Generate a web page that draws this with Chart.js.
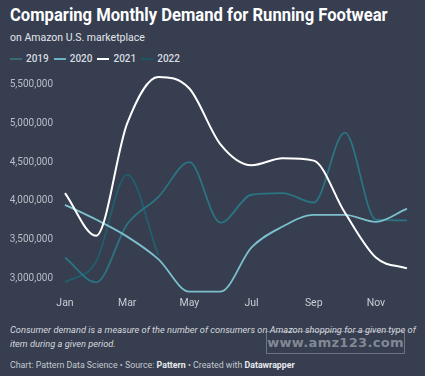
<!DOCTYPE html>
<html>
<head>
<meta charset="utf-8">
<script src="https://cdn.jsdelivr.net/npm/chart.js@4"></script>
<style>
  html, body { margin: 0; padding: 0; }
  body {
    width: 425px; height: 376px; overflow: hidden;
    background: #363e50; font-family: Roboto, "Noto Sans", sans-serif;
    position: relative; color: #fff;
  }
  #title { position: absolute; left: 10px; top: 4px; font-size: 18px; font-weight: 700; white-space: nowrap; transform-origin: 0 0; }
  #sub { position: absolute; left: 10px; top: 31px; font-size: 10.5px; color: #e4e6ea; white-space: nowrap; }
  #legend { position: absolute; left: 10px; top: 53px; font-size: 10px; font-weight: 500; color: #d8dbe0; display: flex; gap: 5px; }
  #legend span { display: flex; align-items: center; }
  #legend i { display: inline-block; width: 12px; height: 2px; margin-right: 4px; }
  #wrap { position: absolute; left: 0; top: 65px; width: 425px; height: 250px; }
  #note { position: absolute; left: 10px; top: 323px; font-size: 9.25px; font-style: italic; color: #d6d9de; line-height: 14px; white-space: nowrap; }
  #credit { position: absolute; left: 10px; top: 360px; font-size: 8.8px; color: #c4c8cf; white-space: nowrap; }
  #credit b { color: #e8eaee; }
  #wm { position: absolute; left: 266px; top: 331px; width: 137px; height: 21px; border: 1px solid rgba(190,195,205,0.4);
        font: 700 13px "DejaVu Sans", sans-serif; color: rgba(175,180,190,0.65); text-align: center; line-height: 21px; letter-spacing: 0.3px; }
</style>
</head>
<body>
<div id="title">Comparing Monthly Demand for Running Footwear</div>
<div id="sub">on Amazon U.S. marketplace</div>
<div id="legend"></div>
<div id="wrap"><canvas id="chart" width="425" height="250"></canvas></div>
<div id="note">Consumer demand is a measure of the number of consumers on Amazon shopping for a given type of<br>item during a given period.</div>
<div id="wm">www.amz123.com</div>
<div id="credit">Chart: Pattern Data Science • Source: <b>Pattern</b> • Created with <b>Datawrapper</b></div>
<script>
const months = ['Jan', 'Feb', 'Mar', 'Apr', 'May', 'Jun', 'Jul', 'Aug', 'Sep', 'Oct', 'Nov', 'Dec'];
const tickMonths = ['Jan', 'Mar', 'May', 'Jul', 'Sep', 'Nov'];
const yTicks = [3000000, 3500000, 4000000, 4500000, 5000000, 5500000];

const demand2019 = [3270000, 2950000, 3700000, 4050000, 4500000, 3720000, 4080000, 4100000, 3980000, 4880000, 3760000, 3750000];
const demand2020 = [3950000, 3760000, 3540000, 3250000, 2830000, 2830000, 3400000, 3670000, 3820000, 3820000, 3730000, 3900000];
const demand2021 = [4100000, 3550000, 5000000, 5600000, 5450000, 4730000, 4460000, 4550000, 4520000, 3850000, 3270000, 3130000];
const demand2022 = [2950000, 3220000, 4340000, 3300000, null, null, null, null, null, null, null, null];

const series = [
    { label: '2021', data: demand2021, color: '#ffffff', legend: '#ffffff', width: 2, order: 0 },
    { label: '2020', data: demand2020, color: '#7cc0cd', legend: '#6cb4c4', width: 1.8, order: 1 },
    { label: '2019', data: demand2019, color: '#2b7482', legend: '#3a6a78', width: 1.8, order: 2 },
    { label: '2022', data: demand2022, color: '#20606c', legend: '#1c5563', width: 1.8, order: 3 }
];

// fit the title to the width it has in the original
const title = document.getElementById('title');
title.style.transform = 'scaleX(' + (378 / title.scrollWidth) + ')';

// legend in the html, like datawrapper
const legendOrder = ['2019', '2020', '2021', '2022'];
let legendHtml = '';
legendOrder.forEach(l => {
    const s = series.find(x => x.label === l);
    legendHtml += '<span><i style="background:' + s.legend + '"></i>' + l + '</span>';
});
document.getElementById('legend').innerHTML = legendHtml;

new Chart(document.getElementById('chart'), {
    type: 'line',
    data: {
        labels: months,
        datasets: series.map(s => ({
            label: s.label,
            data: s.data,
            borderColor: s.color,
            borderWidth: s.width,
            pointRadius: 0,
            fill: false,
            cubicInterpolationMode: 'monotone',
            order: s.order
        }))
    },
    options: {
        responsive: false,
        animation: false,
        layout: { padding: { top: 8, right: 18, left: 0, bottom: 0 } },
        plugins: { legend: { display: false }, tooltip: { enabled: false } },
        scales: {
            x: {
                grid: { display: false, drawTicks: false },
                border: { display: false },
                afterFit: s => { s.height = 21; },
                ticks: {
                    color: '#c9cdd4',
                    font: { family: 'Roboto', size: 10.5 },
                    padding: 3,
                    maxRotation: 0,
                    autoSkip: false,
                    callback: function (v) {
                        const m = this.getLabelForValue(v);
                        return tickMonths.includes(m) ? m : '';
                    }
                }
            },
            y: {
                min: 2800000,
                max: 5650000,
                grid: { display: false, drawTicks: false },
                border: { display: false },
                afterFit: s => { s.width = 65; s.paddingTop = 0; s.paddingBottom = 0; },
                afterBuildTicks: s => { s.ticks = yTicks.map(v => ({ value: v })); },
                ticks: {
                    color: '#b9bec7',
                    font: { family: 'Roboto', size: 10 },
                    padding: 12,
                    callback: v => v.toLocaleString('en-US')
                }
            }
        }
    }
});
</script>
</body>
</html>
